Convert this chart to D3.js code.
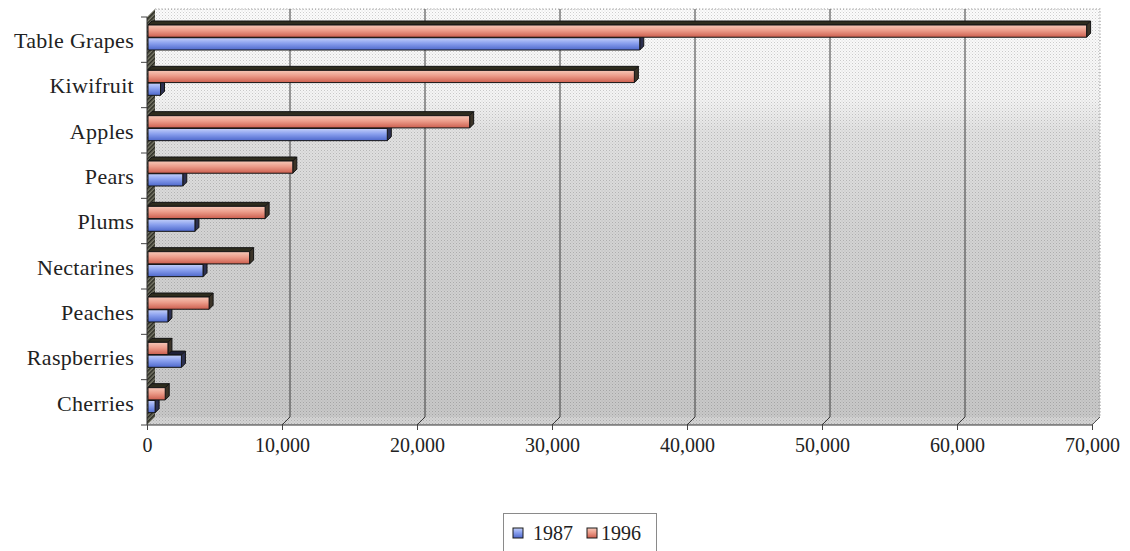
<!DOCTYPE html>
<html>
<head>
<meta charset="utf-8">
<script src="https://cdn.jsdelivr.net/npm/d3@7"></script>
<style>
  html, body { margin: 0; padding: 0; background: #ffffff; }
  svg { display: block; }
</style>
</head>
<body>
<svg id="chart" width="1130" height="551"></svg>
<script>
// Fruit export volumes, 1987 vs 1996
const categories = ["Table Grapes", "Kiwifruit", "Apples", "Pears", "Plums", "Nectarines", "Peaches", "Raspberries", "Cherries"];
const values1987 = [36500, 1000, 17800, 2650, 3550, 4150, 1550, 2550, 600];
const values1996 = [69600, 36100, 23900, 10800, 8750, 7600, 4600, 1550, 1350];
const seriesNames = ["1987", "1996"];
const tickValues = [0, 10000, 20000, 30000, 40000, 50000, 60000, 70000];

const svg = d3.select("#chart");
const defs = svg.append("defs");

// 3D box geometry
const front = { left: 147, right: 1092, top: 17, bottom: 425 };
const wallDepth = 8;     // offset of the back wall
const barDepth = 4;      // depth of each bar

const x = d3.scaleLinear().domain([0, 70000]).range([front.left, front.right]);
const y = d3.scaleBand().domain(categories).range([front.top, front.bottom]).paddingInner(0).paddingOuter(0);
const ySub = d3.scaleBand().domain(["1996", "1987"]).range([8, 33]).paddingInner(0.04);

// Back wall shading
const wallGrad = defs.append("linearGradient").attr("id", "wallGrad")
  .attr("x1", 0).attr("y1", 0).attr("x2", 0).attr("y2", 1);
[[0, "#fcfcfc"], [0.22, "#f4f4f4"], [0.3, "#e2e2e2"], [0.55, "#d4d4d4"], [1, "#c8c8c8"]]
  .forEach(([o, c]) => wallGrad.append("stop").attr("offset", o).attr("stop-color", c));

// Halftone-like dot texture
const dots = defs.append("pattern").attr("id", "dots")
  .attr("width", 3).attr("height", 3).attr("patternUnits", "userSpaceOnUse");
dots.append("rect").attr("width", 1).attr("height", 1).attr("fill", "#000").attr("opacity", 0.18);
dots.append("rect").attr("x", 1.5).attr("y", 1.5).attr("width", 1).attr("height", 1).attr("fill", "#000").attr("opacity", 0.12);

// Left wall hatch
const hatch = defs.append("pattern").attr("id", "hatch")
  .attr("width", 3).attr("height", 3).attr("patternUnits", "userSpaceOnUse")
  .attr("patternTransform", "rotate(45)");
hatch.append("rect").attr("width", 3).attr("height", 3).attr("fill", "#7a7a6a");
hatch.append("rect").attr("width", 1.5).attr("height", 3).attr("fill", "#2a2a22");

// Bar front gradients
function barGradient(id, stops) {
  const g = defs.append("linearGradient").attr("id", id)
    .attr("x1", 0).attr("y1", 0).attr("x2", 0).attr("y2", 1);
  stops.forEach(([o, c]) => g.append("stop").attr("offset", o).attr("stop-color", c));
}
barGradient("grad1996", [[0, "#f6c8b8"], [0.45, "#ec9c8a"], [1, "#cc5e4e"]]);
barGradient("grad1987", [[0, "#c4d0fa"], [0.45, "#8aa0ee"], [1, "#4e68cc"]]);

const style = {
  "1996": { front: "url(#grad1996)", top: "#2e2c1e", side: "#3c3428" },
  "1987": { front: "url(#grad1987)", top: "#1e2038", side: "#2c3050" }
};

// Back wall
const wallX0 = front.left + wallDepth, wallX1 = front.right + wallDepth;
const wallY0 = front.top - wallDepth, wallY1 = front.bottom - wallDepth;
svg.append("rect").attr("x", wallX0).attr("y", wallY0)
  .attr("width", wallX1 - wallX0).attr("height", wallY1 - wallY0).attr("fill", "url(#wallGrad)");
svg.append("rect").attr("x", wallX0).attr("y", wallY0)
  .attr("width", wallX1 - wallX0).attr("height", wallY1 - wallY0).attr("fill", "url(#dots)");
// dotted border on top and right of the wall
svg.append("path")
  .attr("d", `M${wallX0},${wallY0}H${wallX1}V${wallY1}`)
  .attr("fill", "none").attr("stroke", "#9a9a9a").attr("stroke-width", 1.2)
  .attr("stroke-dasharray", "1.2,2");

// Floor
const floorPts = [[front.left, front.bottom], [front.right, front.bottom], [wallX1, wallY1], [wallX0, wallY1]];
svg.append("polygon").attr("points", floorPts.map(p => p.join(",")).join(" ")).attr("fill", "#d4d4d4");
svg.append("polygon").attr("points", floorPts.map(p => p.join(",")).join(" ")).attr("fill", "url(#dots)");

// Gridlines on the back wall plus their floor diagonals
const grid = svg.append("g").attr("stroke", "#3a3a3a").attr("stroke-width", 1).attr("fill", "none");
tickValues.filter(v => v > 0 && v < 70000).forEach(v => {
  grid.append("path").attr("d", `M${x(v)},${front.bottom}L${x(v) + wallDepth},${wallY1}V${wallY0}`);
});
svg.append("path").attr("d", `M${front.right},${front.bottom}L${wallX1},${wallY1}`)
  .attr("stroke", "#555").attr("fill", "none");

// Left wall
svg.append("polygon")
  .attr("points", [[front.left, front.top], [wallX0, wallY0], [wallX0, wallY1], [front.left, front.bottom]].map(p => p.join(",")).join(" "))
  .attr("fill", "url(#hatch)");

// Bars: 1987 first, 1996 on top of it
const rows = categories.map((c, i) => ({ cat: c, "1987": values1987[i], "1996": values1996[i] }));
const barLayer = svg.append("g");
["1987", "1996"].forEach(s => {
  rows.forEach(r => {
    const v = r[s];
    const x0 = x(0) + 1, x1 = x(v);
    const y0 = y(r.cat) + ySub(s), h = ySub.bandwidth();
    const d = barDepth;
    const g = barLayer.append("g").attr("stroke", "#141414").attr("stroke-width", 1).attr("stroke-linejoin", "round");
    g.append("polygon")
      .attr("points", [[x0, y0], [x0 + d, y0 - d], [x1 + d, y0 - d], [x1, y0]].map(p => p.join(",")).join(" "))
      .attr("fill", style[s].top);
    g.append("polygon")
      .attr("points", [[x1, y0], [x1 + d, y0 - d], [x1 + d, y0 + h - d], [x1, y0 + h]].map(p => p.join(",")).join(" "))
      .attr("fill", style[s].side);
    g.append("rect").attr("x", x0).attr("y", y0).attr("width", Math.max(0, x1 - x0)).attr("height", h)
      .attr("fill", style[s].front);
  });
});

// Front axes
svg.append("path").attr("d", `M${front.left},${front.top}V${front.bottom}H${front.right}`)
  .attr("fill", "none").attr("stroke", "#333").attr("stroke-width", 1);

// Value axis
const xAxis = d3.axisBottom(x).tickValues(tickValues).tickSize(5).tickPadding(8)
  .tickFormat(d3.format(",.0f"));
const gx = svg.append("g").attr("transform", `translate(0,${front.bottom})`).call(xAxis);
gx.select(".domain").remove();
gx.selectAll(".tick line").attr("stroke", "#444");
gx.selectAll(".tick text")
  .attr("font-family", "'Liberation Serif', 'Times New Roman', serif")
  .attr("font-size", 20).attr("fill", "#222");

// Category axis
const yAxis = d3.axisLeft(y).tickSize(0).tickPadding(13);
const gy = svg.append("g").attr("transform", `translate(${front.left},0)`).call(yAxis);
gy.select(".domain").remove();
gy.selectAll(".tick text")
  .attr("font-family", "'Liberation Serif', 'Times New Roman', serif")
  .attr("font-size", 22).attr("letter-spacing", "0.3px").attr("fill", "#222").attr("dy", "0.38em");
// category separators
svg.append("g").selectAll("line").data(d3.range(categories.length + 1)).join("line")
  .attr("x1", front.left - 6).attr("x2", front.left)
  .attr("y1", i => front.top + i * y.step()).attr("y2", i => front.top + i * y.step())
  .attr("stroke", "#444");

// Legend
const legend = svg.append("g");
legend.append("rect").attr("x", 503.5).attr("y", 513.5).attr("width", 153).attr("height", 50)
  .attr("fill", "#fff").attr("stroke", "#8a8a8a");
const legendItems = [
  { name: seriesNames[0], fill: "url(#grad1987)", x: 513, tx: 533 },
  { name: seriesNames[1], fill: "url(#grad1996)", x: 587, tx: 601 }
];
legendItems.forEach(it => {
  legend.append("rect").attr("x", it.x).attr("y", 528).attr("width", 10).attr("height", 10)
    .attr("fill", it.fill).attr("stroke", "#1a1a1a");
  legend.append("text").attr("x", it.tx).attr("y", 540).text(it.name)
    .attr("font-family", "'Liberation Serif', 'Times New Roman', serif")
    .attr("font-size", 20).attr("fill", "#222");
});
</script>
</body>
</html>
